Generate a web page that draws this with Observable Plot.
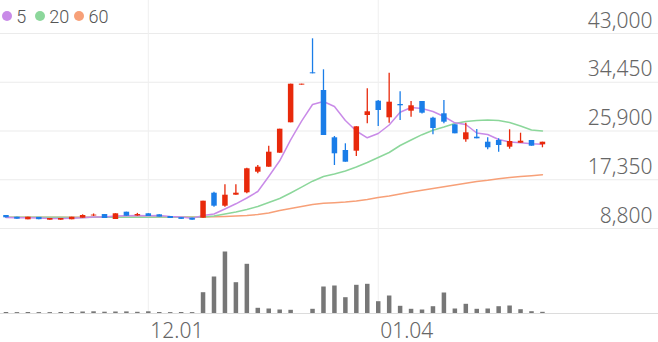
<!DOCTYPE html>
<html><head><meta charset="utf-8">
<script src="https://cdn.jsdelivr.net/npm/d3@7"></script>
<script src="https://cdn.jsdelivr.net/npm/@observablehq/plot@0.6"></script>
<style>
body{margin:0;background:#fff;font-family:Roboto,sans-serif;}
#wrap{position:relative;width:658px;height:342px;overflow:hidden;}
#wrap svg{display:block;}
.lg{position:absolute;}
.dot{width:10px;height:10px;border-radius:50%;top:11.3px;}
.lab{font:300 18px Roboto,sans-serif;line-height:18px;color:#555;top:7.5px;}
</style></head><body>
<div id="wrap">
</div>
<script>
// ---- data ----
const opens  = [11080,10782,10326,10750,10255,10260,10330,10610,11000,11250,10380,11660,11000,11380,11200,10900,10700,10600,10607,14992,12712,14641,15061,18675,19553,22007,27339,33950,36108,33003,24707,22481,22358,28619,31127,28215,30548,29373,31074,28145,28917,26988,24357,24813,23936,24234,23059,23761,24234,23480];
const highs  = [11080,10782,10782,10750,10550,10560,10780,11200,11350,11250,11380,11660,11450,11380,11200,10900,10700,10600,13589,15167,16466,16466,19377,19850,23235,26216,34108,34108,42070,36634,24936,23656,26637,33301,31250,36037,32775,31074,31074,28320,31250,26988,27268,26163,24707,24532,26111,25515,24234,23936];
const lows   = [10677,10432,10326,10350,10255,10260,10330,10610,10900,10550,10380,10950,10950,10900,10800,10550,10400,10250,10607,12536,12536,14641,14887,18394,19553,22007,27339,33950,35932,25111,19850,20429,21428,27163,26690,27268,27742,28321,28900,25234,27163,25409,23936,24532,22604,22183,22708,23761,23234,22954];
const closes = [10677,10432,10782,10350,10550,10560,10780,11080,11150,10550,11380,10950,11250,10900,10800,10550,10400,10250,13589,12712,14641,14992,19271,19553,22183,26216,34108,34108,35932,25111,21902,20429,26637,29268,29496,30951,30320,30320,29022,26339,27444,25409,25585,24532,22954,23357,24059,24111,23234,23936];
const volumes = [10000,9000,10000,9000,9000,10000,10000,15000,17000,13000,15000,16000,12000,17000,10000,9000,10000,9000,208000,365000,615000,308000,492000,52000,45000,35000,32000,0,42000,265000,275000,158000,282000,292000,118000,175000,72000,42000,35000,68000,205000,45000,92000,42000,45000,68000,75000,38000,18000,12000];
const ma5  = [10750,10700,10680,10620,10558,10535,10604,10664,10824,10824,10988,11022,11082,11032,11082,10916,10806,10580,11081,11344,12221,13133,14150,15290,17921,20674,24340,27619,30548,31074,30197,27742,25900,24708,25462,26953,29180,30022,29846,29320,28443,27339,27040,25550,25287,24410,23971,23831,23656,23568];
const ma20 = [10790,10780,10770,10765,10760,10755,10750,10750,10755,10760,10770,10780,10790,10795,10800,10800,10795,10790,10818,10993,11344,11695,12133,12659,13361,14062,15027,16044,17096,17921,18359,18885,19587,20376,21253,22130,23357,24322,25252,26041,26602,27216,27567,27742,27830,27742,27391,26777,26076,25900];
const ma60 = [10790,10790,10785,10785,10780,10780,10780,10780,10785,10785,10790,10790,10795,10795,10800,10800,10800,10800,10818,10853,10905,10993,11081,11256,11519,11958,12308,12659,13010,13220,13326,13448,13624,13887,14238,14501,14852,15202,15500,15816,16114,16430,16728,17044,17254,17517,17745,17921,18061,18219];
const yTicks = [8800,17350,25900,34450,43000];
const xTickIdx = [13,34];
const xTickLabels = ["12.01","01.04"];
const maNames = ["5","20","60"];
const maColors = ["#c98be8","#8cd79b","#f7a078"];

// ---- build ----
const RED = "#e8290b", BLUE = "#1a7de8";
const rows = d3.range(closes.length).map(i => ({i, open: opens[i], high: highs[i], low: lows[i], close: closes[i], vol: volumes[i], m5: ma5[i], m20: ma20[i], m60: ma60[i]}));
const col = d => d.close >= d.open ? RED : BLUE;
const xOpt = {domain: [-0.5, 59.6], axis: null};

const price = Plot.plot({
  width: 658, height: 240, margin: 0,
  x: xOpt,
  y: {domain: [8800, 43000], range: [228, 33], axis: null},
  marks: [
    Plot.ruleY(yTicks, {stroke: "#ebebeb"}),
    Plot.ruleX(xTickIdx, {stroke: "#efefef"}),
    Plot.line(rows, {x: "i", y: "m60", stroke: maColors[2], strokeWidth: 1.5}),
    Plot.line(rows, {x: "i", y: "m20", stroke: maColors[1], strokeWidth: 1.5}),
    Plot.line(rows, {x: "i", y: "m5", stroke: maColors[0], strokeWidth: 1.5}),
    Plot.ruleX(rows, {x: "i", y1: "low", y2: "high", stroke: col, strokeWidth: 1.3}),
    Plot.ruleX(rows, {x: "i", y1: "open", y2: "close", stroke: col, strokeWidth: 5.5}),
    Plot.text(yTicks, {y: d => d, text: d => d3.format(",")(d), frameAnchor: "right", textAnchor: "end", lineAnchor: "bottom", dx: -6, dy: -6, fill: "#666", fontSize: 21, fontWeight: 300})
  ]
});

const vol = Plot.plot({
  width: 658, height: 102, marginTop: 0, marginLeft: 0, marginRight: 0, marginBottom: 29,
  x: xOpt,
  y: {domain: [0, 730000], axis: null},
  marks: [
    Plot.ruleX(xTickIdx, {stroke: "#efefef"}),
    Plot.ruleY([0], {stroke: "#dcdcdc"}),
    Plot.ruleX(rows, {x: "i", y1: 0, y2: "vol", stroke: "#777", strokeWidth: 4.5}),
    Plot.text(xTickIdx, {x: d => d, text: (d, i) => xTickLabels[i], frameAnchor: "bottom", textAnchor: "start", lineAnchor: "bottom", dx: 2, dy: 24, fill: "#666", fontSize: 21, fontWeight: 300})
  ]
});

const wrap = document.getElementById("wrap");
wrap.appendChild(price);
wrap.appendChild(vol);

// legend
const dotLeft = [1.7, 35, 74], labLeft = [16.3, 49.3, 88.5];
maNames.forEach((name, k) => {
  const d = document.createElement("div");
  d.className = "lg dot"; d.style.left = dotLeft[k] + "px"; d.style.background = maColors[k];
  wrap.appendChild(d);
  const t = document.createElement("div");
  t.className = "lg lab"; t.style.left = labLeft[k] + "px"; t.textContent = name;
  wrap.appendChild(t);
});
</script>
</body></html>
